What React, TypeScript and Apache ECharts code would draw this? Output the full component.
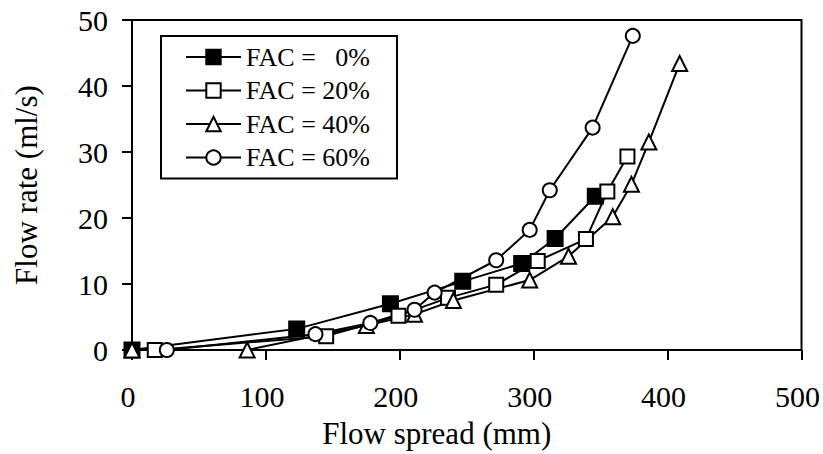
import React, { useEffect, useRef } from "react";
import * as echarts from "echarts";

// Flow spread (mm) and flow rate (ml/s) for each fly-ash content
const fac0Spread = [0, 123, 193, 247, 291, 316, 346];
const fac0Rate = [0, 3.2, 7.0, 10.4, 13.1, 16.9, 23.3];

const fac20Spread = [17, 145, 199, 236, 272, 303, 339, 355, 370];
const fac20Rate = [0, 2.1, 5.2, 7.9, 9.9, 13.5, 16.8, 24.0, 29.3];

const fac40Spread = [0, 86, 175, 211, 240, 297, 326, 359, 373, 386, 409];
const fac40Rate = [0, 0, 3.7, 5.4, 7.5, 10.6, 14.2, 20.2, 25.1, 31.5, 43.4];

const fac60Spread = [26, 137, 178, 211, 226, 272, 297, 312, 344, 374];
const fac60Rate = [0, 2.4, 4.1, 6.1, 8.7, 13.6, 18.2, 24.2, 33.7, 47.6];

// Two no-break spaces take the width of one digit, keeping the % signs aligned
const seriesNames = [
  "FAC = \u00A0\u00A00%",
  "FAC = 20%",
  "FAC = 40%",
  "FAC = 60%",
];

const FONT = "'Liberation Serif', 'Times New Roman', serif";

const pair = (xs: number[], ys: number[]) => xs.map((x, i) => [x, ys[i]]);

export default function App() {
  const ref = useRef<HTMLDivElement>(null);

  useEffect(() => {
    if (!ref.current) return;
    const chart = echarts.init(ref.current, undefined, { renderer: "svg" });

    const mk = (
      name: string,
      data: number[][],
      symbol: string,
      size: number,
      filled: boolean
    ) => ({
      name,
      type: "line",
      data,
      symbol,
      symbolSize: size,
      showSymbol: true,
      lineStyle: { color: "#000", width: 2 },
      itemStyle: {
        color: filled ? "#000" : "#fff",
        borderColor: "#000",
        borderWidth: 2,
      },
      emphasis: { disabled: true },
      z: 3,
    });

    chart.setOption({
      animation: false,
      backgroundColor: "#fff",
      grid: {
        left: 132,
        right: 21,
        top: 20,
        bottom: 99,
        show: true,
        borderColor: "#000",
        borderWidth: 2,
      },
      legend: {
        orient: "vertical",
        left: 161,
        top: 36,
        data: seriesNames,
        itemWidth: 55,
        itemHeight: 18,
        itemGap: 7.5,
        padding: [8, 27, 8, 24],
        borderColor: "#000",
        borderWidth: 2,
        backgroundColor: "#fff",
        textStyle: {
          fontFamily: FONT,
          fontSize: 26,
          lineHeight: 26,
          color: "#000",
        },
      },
      xAxis: {
        type: "value",
        min: 0,
        max: 500,
        interval: 100,
        name: "Flow spread (mm)",
        nameLocation: "middle",
        nameGap: 68,
        nameTextStyle: {
          fontFamily: FONT,
          fontSize: 31,
          color: "#000",
          padding: [0, 60, 0, 0],
        },
        axisLine: { show: true, onZero: false, lineStyle: { color: "#000", width: 2 } },
        axisTick: { show: true, inside: false, length: 10, lineStyle: { color: "#000", width: 2 } },
        axisLabel: {
          fontFamily: FONT,
          fontSize: 30,
          color: "#000",
          margin: 31,
          padding: [0, 8, 0, 0],
        },
        splitLine: { show: false },
      },
      yAxis: {
        type: "value",
        min: 0,
        max: 50,
        interval: 10,
        name: "Flow rate (ml/s)",
        nameLocation: "middle",
        nameGap: 90,
        nameTextStyle: { fontFamily: FONT, fontSize: 31, color: "#000" },
        axisLine: { show: true, onZero: false, lineStyle: { color: "#000", width: 2 } },
        axisTick: { show: true, inside: false, length: 10, lineStyle: { color: "#000", width: 2 } },
        axisLabel: { fontFamily: FONT, fontSize: 30, color: "#000", margin: 24 },
        splitLine: { show: false },
      },
      series: [
        mk(seriesNames[0], pair(fac0Spread, fac0Rate), "rect", 15, true),
        mk(seriesNames[1], pair(fac20Spread, fac20Rate), "rect", 14, false),
        mk(seriesNames[2], pair(fac40Spread, fac40Rate), "triangle", 15, false),
        mk(seriesNames[3], pair(fac60Spread, fac60Rate), "circle", 14, false),
      ],
    });

    return () => chart.dispose();
  }, []);

  return (
    <div
      ref={ref}
      style={{ width: 823, height: 454, position: "absolute", left: 0, top: 0 }}
    />
  );
}
